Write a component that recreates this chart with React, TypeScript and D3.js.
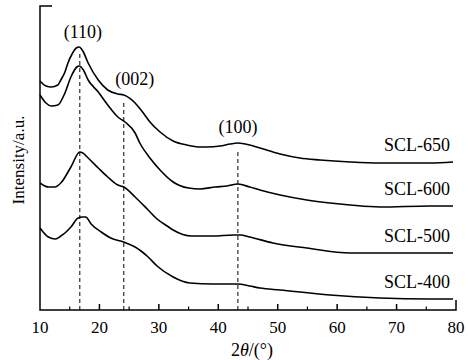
import React from 'react';
import * as d3 from 'd3';

// 2θ positions (degrees)
const angles650 = [10, 11, 11.9, 13, 13.5, 14.2, 14.7, 15.4, 16.1, 16.6, 17.2, 18.1, 19.8, 21.4, 23.1, 24.1, 26, 27, 28.5, 30.2, 32.4, 34.7, 36.9, 38.1, 40.3, 42, 43.3, 45.3, 47, 50.4, 53.7, 57.1, 62.2, 67.2, 75.6, 79.5];
const scl650 = [229, 224, 223, 225, 230, 238, 247, 256, 262, 263, 259, 247, 230, 220, 216, 215, 207, 200, 188, 178, 169, 165, 163, 163, 164, 166, 167, 165, 162, 156, 152, 150, 148, 147, 147, 148];

const angles600 = [10, 11, 11.9, 13, 14.2, 15.2, 16.2, 16.6, 17.3, 18.1, 19.8, 21.4, 23.1, 24.3, 26, 26.8, 28.5, 30.2, 32.4, 35, 36.9, 39.5, 41.5, 43.3, 45.3, 47, 50.4, 54.9, 58.8, 62.2, 67.2, 75.6, 79.5];
const scl600 = [215, 207, 204, 205, 217, 233, 243, 244, 240, 230, 218, 205, 193, 188, 177, 167, 152, 140, 128, 122, 121, 123, 124, 126, 123, 120, 115, 110, 107, 105, 103, 104, 104];

const angles500 = [10, 11.4, 12.5, 13.5, 15.2, 16.7, 17.2, 18.1, 19.8, 21.4, 23.1, 24.1, 26, 28.2, 29.7, 31.4, 32.4, 35.5, 39.1, 42.5, 43.7, 45.3, 49.2, 54.9, 62.2, 67.2, 75.6, 79.5];
const scl500 = [127, 123, 123, 127, 143, 158, 157, 152, 142, 133, 125, 123, 113, 100, 91, 84, 80, 74, 74, 75, 75, 73, 67, 62, 57, 57, 57, 57];

const angles400 = [10, 11.4, 12.6, 13.5, 14.2, 15.2, 16.4, 17.1, 17.7, 18.6, 20.3, 21.9, 24.1, 26, 27, 28.2, 29.7, 32.4, 35.2, 39.1, 43.3, 45.3, 47, 50.4, 58.8, 67.2, 75.6, 79.5];
const scl400 = [82, 73, 71, 74, 77, 83, 92, 93, 93, 86, 78, 72, 68, 63, 59, 53, 44, 33, 27, 26, 26, 24, 22, 20, 15, 12, 11, 11];

const sampleNames = ['SCL-650', 'SCL-600', 'SCL-500', 'SCL-400'];

// reflections marked with dashed lines
const peakAngles = [16.7, 24.1, 43.3];
const peakLabels = ['(110)', '(002)', '(100)'];

const xTicks = [10, 20, 30, 40, 50, 60, 70, 80];

const W = 468;
const H = 360;
const FONT = "'Liberation Serif', 'Times New Roman', 'DejaVu Serif', serif";

export default function App() {
  const x = d3.scaleLinear().domain([10, 80]).range([40, 456]);
  const y = d3.scaleLinear().domain([0, 304]).range([310, 6]);

  const series = [
    { name: sampleNames[0], xs: angles650, ys: scl650 },
    { name: sampleNames[1], xs: angles600, ys: scl600 },
    { name: sampleNames[2], xs: angles500, ys: scl500 },
    { name: sampleNames[3], xs: angles400, ys: scl400 },
  ];

  const line = d3
    .line<[number, number]>()
    .x(d => x(d[0]))
    .y(d => y(d[1]))
    .curve(d3.curveMonotoneX);

  // intensity of the top trace at a given angle (for dashed line ends)
  const topAt = (a: number) => d3.scaleLinear().domain(angles650).range(scl650)(a);

  const minorTicks = d3.range(15, 80, 10);
  const labelDx = [3, 11, 0];
  const txt = { fontFamily: FONT, fill: '#000' };

  return (
    <svg width={W} height={H} style={{ position: 'absolute', left: 0, top: 0, background: '#fff' }}>
      {/* dashed reflection markers */}
      {peakAngles.map((a, i) => (
        <g key={'pk' + i}>
          <line
            x1={x(a)}
            x2={x(a)}
            y1={y(0)}
            y2={y(topAt(a)) + 6}
            stroke="#000"
            strokeWidth={1}
            strokeDasharray="4,3"
          />
          <text x={x(a) + labelDx[i]} y={y(topAt(a)) - 10} textAnchor="middle" style={{ ...txt, fontSize: 18 }}>
            {peakLabels[i]}
          </text>
        </g>
      ))}

      {/* traces */}
      {series.map(s => {
        const pts = s.xs.map((a, i) => [a, s.ys[i]] as [number, number]);
        const last = pts[pts.length - 1];
        return (
          <g key={s.name}>
            <path d={line(pts) || ''} fill="none" stroke="#000" strokeWidth={1.6} strokeLinejoin="round" />
            <text x={450} y={y(last[1]) - 11} textAnchor="end" style={{ ...txt, fontSize: 18 }}>
              {s.name}
            </text>
          </g>
        );
      })}

      {/* axes */}
      <g stroke="#000" strokeWidth={1.5} fill="none">
        <path d={`M${x(10) + 12},${y(304)}H${x(10)}V${y(0)}H${x(80)}V${y(0) - 10}`} />
        {xTicks.slice(1, -1).map(t => (
          <line key={'t' + t} x1={x(t)} x2={x(t)} y1={y(0)} y2={y(0) - 6} />
        ))}
        {minorTicks.map(t => (
          <line key={'m' + t} x1={x(t)} x2={x(t)} y1={y(0)} y2={y(0) - 3.5} strokeWidth={1.2} />
        ))}
      </g>
      {xTicks.map(t => (
        <text key={'l' + t} x={x(t)} y={333} textAnchor="middle" style={{ ...txt, fontSize: 17 }}>
          {t}
        </text>
      ))}
      <text x={252} y={356} textAnchor="middle" style={{ ...txt, fontSize: 18 }}>
        2<tspan fontStyle="italic">θ</tspan>/(°)
      </text>
      <text transform="translate(24,160) rotate(-90)" textAnchor="middle" style={{ ...txt, fontSize: 17 }}>
        Intensity/a.u.
      </text>
    </svg>
  );
}
